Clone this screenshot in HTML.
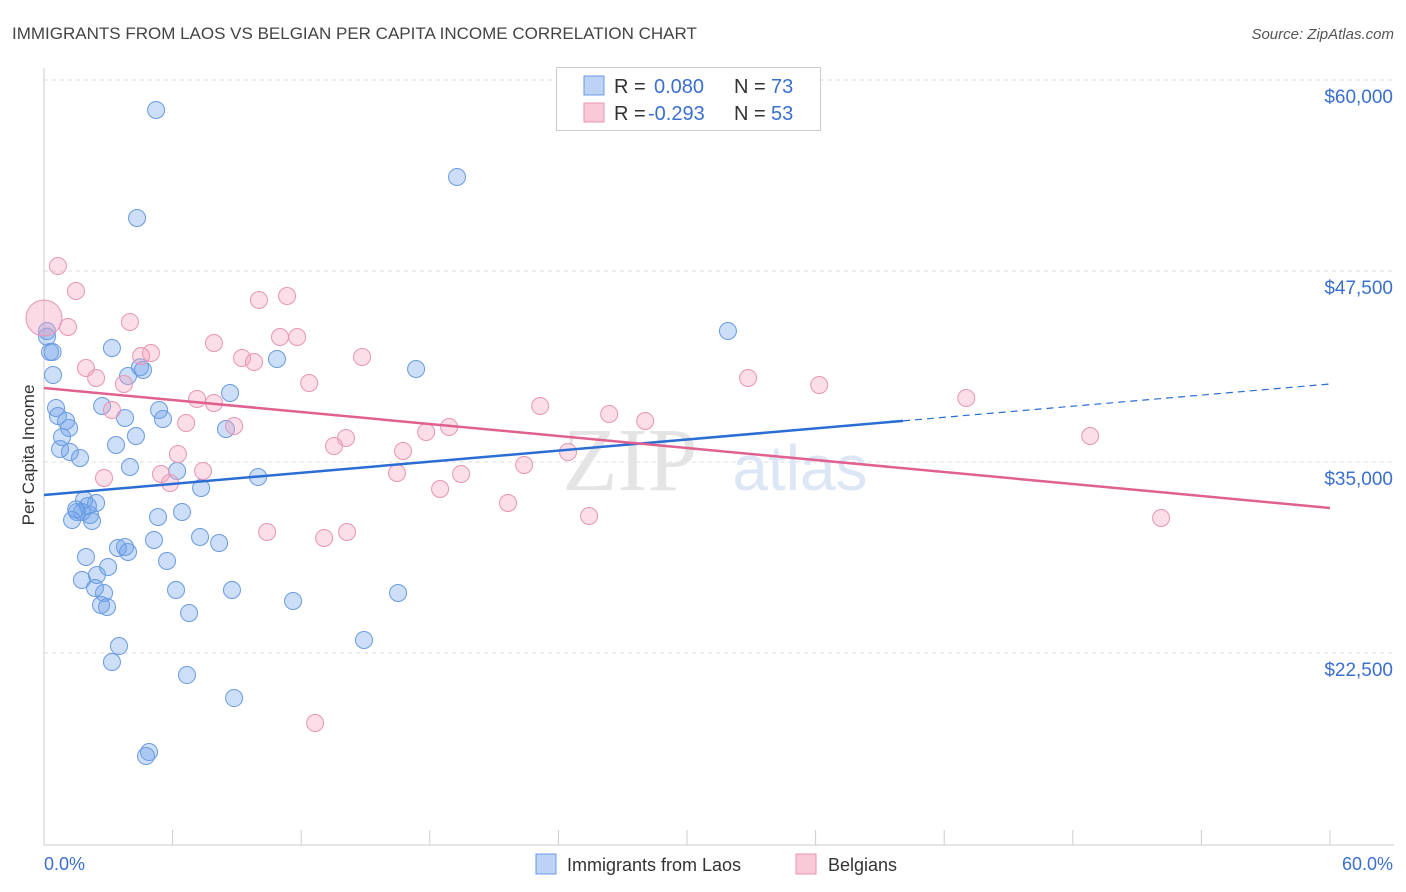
<!DOCTYPE html>
<html><head><meta charset="utf-8"><style>
body{margin:0;background:#fff;font-family:"Liberation Sans",sans-serif;}
svg{display:block}
</style></head><body>
<svg id="chart" width="1406" height="892" viewBox="0 0 1406 892">
<text x="12" y="39" font-size="17" fill="#444">IMMIGRANTS FROM LAOS VS BELGIAN PER CAPITA INCOME CORRELATION CHART</text>
<text x="1394" y="39" font-size="15" fill="#555" font-style="italic" text-anchor="end">Source: ZipAtlas.com</text>
<g id="grid"></g>
<text x="630" y="490" font-size="90" fill="#e4e4e4" font-family="Liberation Serif,serif" text-anchor="middle">ZIP</text>
<text x="800" y="490" font-size="64" fill="#dde6f5" text-anchor="middle">atlas</text>
<g id="pts"></g>
<g id="lines"></g>
<text transform="translate(34,455) rotate(-90)" font-size="17" fill="#333" text-anchor="middle">Per Capita Income</text>
<text x="44" y="870" font-size="18" fill="#3a6fd0">0.0%</text>
<text x="1393" y="870" font-size="18" fill="#3a6fd0" text-anchor="end">60.0%</text>
<g>
<rect x="556.5" y="67.5" width="264" height="63" fill="#fff" stroke="#ccc"/>
<rect x="584" y="76" width="20" height="19" fill="#bcd3f5" stroke="#6a9be0"/>
<rect x="584" y="103" width="20" height="19" fill="#f9c9d8" stroke="#e895b4"/>
<text x="614" y="93" font-size="20" fill="#333">R =</text>
<text x="654" y="93" font-size="20" fill="#3a6fd0">0.080</text>
<text x="734" y="93" font-size="20" fill="#333">N =</text>
<text x="771" y="93" font-size="20" fill="#3a6fd0">73</text>
<text x="614" y="120" font-size="20" fill="#333">R =</text>
<text x="648" y="120" font-size="20" fill="#3a6fd0">-0.293</text>
<text x="734" y="120" font-size="20" fill="#333">N =</text>
<text x="771" y="120" font-size="20" fill="#3a6fd0">53</text>
</g>
<g>
<rect x="536" y="854" width="20" height="20" fill="#bcd3f5" stroke="#6a9be0"/>
<text x="567" y="871" font-size="18" fill="#333">Immigrants from Laos</text>
<rect x="796" y="854" width="20" height="20" fill="#f9c9d8" stroke="#e895b4"/>
<text x="828" y="871" font-size="18" fill="#333">Belgians</text>
</g>
</svg>
<script>
const yTicks=[22500,35000,47500,60000];
const yTickLabels=["$22,500","$35,000","$47,500","$60,000"];
const blueX=[5.23,19.27,4.34,31.91,0.14,0.28,0.4,3.17,10.87,17.36,4.62,3.92,0.42,4.48,8.68,0.56,2.71,5.37,5.55,3.78,0.65,1.03,1.17,8.49,0.84,4.29,3.36,0.75,1.21,1.68,4.01,6.21,9.99,7.33,1.87,2.43,2.05,1.54,1.77,2.15,1.31,2.24,5.32,6.44,5.13,7.28,8.17,3.45,3.78,3.92,1.96,5.74,2.99,2.47,1.77,2.38,6.16,8.77,2.80,16.52,11.62,2.66,2.94,6.77,14.93,3.50,3.17,6.67,8.87,4.90,4.76,0.14,1.5];
const blueY=[58037,53652,50968,43573,43573,42198,42198,42460,41740,41086,41020,40627,40693,41200,39515,38534,38665,38403,37814,37879,38010,37683,37225,37160,36636,36701,36112,35850,35654,35261,34672,34410,34018,33298,32513,32316,32120,31727,31727,31531,31203,31138,31400,31727,29895,30091,29698,29371,29436,29109,28782,28520,28127,27604,27276,26753,26622,26622,26425,26425,25902,25640,25509,25116,23349,22956,21909,21058,19552,16018,15756,43200,31900];
const pinkX=[0.65,1.49,1.12,4.01,11.34,10.03,4.99,4.53,7.93,11.01,11.81,9.24,9.80,14.84,1.96,2.43,3.73,12.37,32.85,36.17,43.03,7.14,7.93,3.17,23.15,26.37,28.05,8.87,6.63,18.90,17.83,14.09,13.53,48.81,16.75,24.45,6.25,22.40,19.46,16.47,7.42,5.46,5.88,2.80,18.48,21.65,25.43,52.12,10.41,14.14,13.07,12.65];
const pinkY=[47827,46191,43835,44162,45864,45602,42133,41937,42787,43180,43180,41806,41544,41871,41151,40497,40104,40169,40497,40038,39188,39122,38861,38403,38665,38141,37683,37356,37552,37290,36963,36570,36046,36701,35719,35654,35523,34803,34214,34279,34410,34214,33625,33952,33232,32316,31465,31334,30418,30418,30025,17917];
const bigPinkX=[0], bigPinkY=[44424];
const blueLine=[32840,40105], pinkLine=[39843,31990], blueSolidEnd=40.08;
const NS="http://www.w3.org/2000/svg";
const X0=44,X1=1330,YT=80,YB=844;
const sx=v=>X0+(v/60)*(X1-X0);
const sy=v=>YT+(60000-v)/50000*(YB-YT);
function mk(t,a,p){const e=document.createElementNS(NS,t);for(const k in a)e.setAttribute(k,a[k]);p.appendChild(e);return e;}
const g=document.getElementById('grid');
yTicks.forEach((t,i)=>{
 const l=mk('line',{x1:X0,x2:1394,y1:sy(t),y2:sy(t),stroke:'#ddd','stroke-dasharray':'4,4'},g);
 
 
 const tx=mk('text',{x:1393,y:sy(t)+23,'font-size':19,fill:'#3a6fd0','text-anchor':'end'},g);
 tx.textContent=yTickLabels[i];
 
 
});
const ax=mk('line',{x1:X0,x2:1394,y1:845,y2:845,stroke:'#ccc'},g);


const ay=mk('line',{x1:X0,x2:X0,y1:68,y2:845,stroke:'#ccc'},g);


for(let i=0;i<=10;i++){
 const tk=mk('line',{x1:sx(i*6),x2:sx(i*6),y1:830,y2:845,stroke:'#ccc'},g);
 
 
}
const p=document.getElementById('pts');
blueX.forEach((x,i)=>{
 const c=mk('circle',{cx:sx(x),cy:sy(blueY[i]),r:8.5,fill:'rgba(110,160,235,0.35)',stroke:'#6a9be0','stroke-width':1},p);
 
 
});
pinkX.forEach((x,i)=>{
 const c=mk('circle',{cx:sx(x),cy:sy(pinkY[i]),r:8.5,fill:'rgba(245,160,190,0.35)',stroke:'#e895b4','stroke-width':1},p);
 
 
});
bigPinkX.forEach((x,i)=>{
 const c=mk('circle',{cx:sx(x),cy:sy(bigPinkY[i]),r:18,fill:'rgba(245,160,190,0.4)',stroke:'#e895b4','stroke-width':1},p);
 
 
});
const L=document.getElementById('lines');
const yb=x=>blueLine[0]+(blueLine[1]-blueLine[0])*x/60;
const b1=mk('line',{x1:sx(0),y1:sy(blueLine[0]),x2:sx(blueSolidEnd),y2:sy(yb(blueSolidEnd)),stroke:'#2a6dd3','stroke-width':2.5},L);


const b2=mk('line',{x1:sx(blueSolidEnd),y1:sy(yb(blueSolidEnd)),x2:sx(60),y2:sy(blueLine[1]),stroke:'#2a6dd3','stroke-width':1.2,'stroke-dasharray':'7,5'},L);


const pl=mk('line',{x1:sx(0),y1:sy(pinkLine[0]),x2:sx(60),y2:sy(pinkLine[1]),stroke:'#e0608f','stroke-width':2.5},L);


</script>
</body></html>
